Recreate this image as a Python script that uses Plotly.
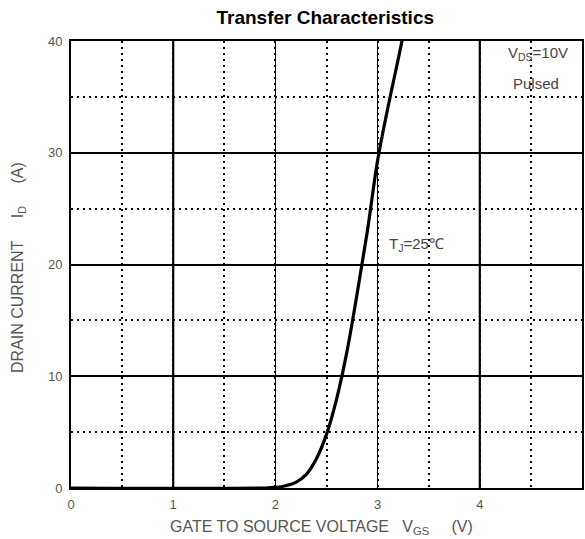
import plotly.graph_objects as go

# Data
vgs = [0.0, 1.9, 2.0, 2.1, 2.2, 2.3, 2.4, 2.5, 2.6, 2.7, 2.8, 2.9, 3.0, 3.1, 3.2, 3.25]
id_a = [0.0, 0.0, 0.05, 0.2, 0.5, 1.2, 2.6, 4.8, 8.0, 12.2, 17.4, 23.0, 29.3, 34.0, 38.3, 40.5]

x_ticks = [0, 1, 2, 3, 4, 5]
y_ticks = [0, 10, 20, 30, 40]
thick_x = [1, 4]

fig = go.Figure()
fig.add_trace(go.Scatter(x=vgs, y=id_a, mode="lines",
                         line=dict(color="black", width=3.2, shape="spline"),
                         hoverinfo="skip", showlegend=False))

tickfont = dict(family="Liberation Sans, Arial", size=13, color="#555555")

fig.update_xaxes(range=[0, 5], tickvals=x_ticks, ticktext=[str(v) for v in x_ticks],
                 showgrid=True, gridcolor="black", gridwidth=1,
                 minor=dict(dtick=0.5, showgrid=True, gridcolor="black", gridwidth=2,
                            griddash="2px,4px"),
                 showline=True, linecolor="black", linewidth=2, mirror=True,
                 ticks="", zeroline=False, tickfont=tickfont, ticklabelstandoff=3)
fig.update_yaxes(range=[0, 40], tickvals=y_ticks, ticktext=[str(v) for v in y_ticks],
                 showgrid=True, gridcolor="black", gridwidth=2,
                 minor=dict(dtick=5, showgrid=True, gridcolor="black", gridwidth=2,
                            griddash="2px,4px"),
                 showline=True, linecolor="black", linewidth=2, mirror=True,
                 ticks="", zeroline=False, tickfont=tickfont, ticklabelstandoff=4)

for xv in thick_x:
    fig.add_shape(type="line", xref="x", yref="paper", x0=xv, x1=xv, y0=0, y1=1,
                  line=dict(color="black", width=2.2), layer="below")

lblfont = dict(family="Liberation Sans, Arial", size=16, color="#555555")
nb = "\u00a0"
fig.add_annotation(text="GATE TO SOURCE VOLTAGE" + nb * 3 + "V<sub>GS</sub>" + nb * 5 + "(V)",
                   xref="paper", yref="paper", x=0.491, y=-0.088, xanchor="center",
                   yanchor="middle", showarrow=False, font=lblfont)
fig.add_annotation(text="DRAIN CURRENT" + nb * 5 + "I<sub>D</sub>" + nb * 5 + "(A)",
                   xref="paper", yref="paper", x=-0.104, y=0.494, xanchor="center",
                   yanchor="middle", textangle=-90, showarrow=False, font=lblfont)

annfont = dict(family="Liberation Sans, Arial", size=15, color="#444444")
fig.add_annotation(text="V<sub>DS</sub>=10V", x=4.57, y=38.9, xref="x", yref="y",
                   showarrow=False, font=annfont)
fig.add_annotation(text="Pulsed", x=4.55, y=36.2, xref="x", yref="y",
                   showarrow=False, font=annfont)
fig.add_annotation(text="T<sub>J</sub>=25\u2103", x=3.09, y=21.8, xref="x", yref="y",
                   xanchor="left", showarrow=False, font=annfont)

fig.update_layout(
    width=585, height=539,
    margin=dict(l=71, r=1, t=41, b=51),
    paper_bgcolor="white", plot_bgcolor="white",
    title=dict(text="<b>Transfer Characteristics</b>", x=0.556, xanchor="center",
               y=0.968, yanchor="middle",
               font=dict(family="Liberation Sans, Arial", size=19, color="black")),
)

fig.write_html("out.html")
